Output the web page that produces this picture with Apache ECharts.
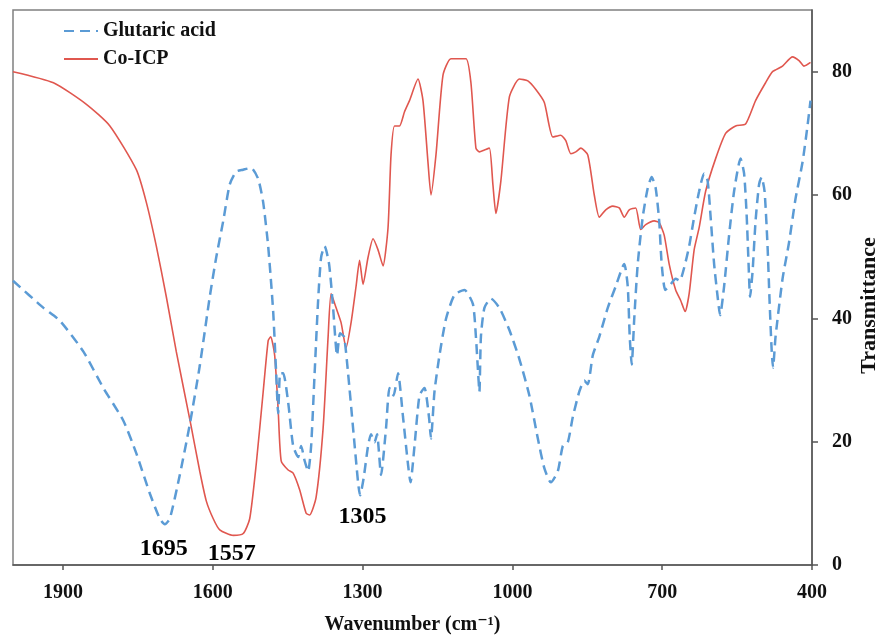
<!DOCTYPE html>
<html>
<head>
<meta charset="utf-8">
<script src="https://cdn.jsdelivr.net/npm/echarts@6/dist/echarts.min.js"></script>
<style>html,body{margin:0;padding:0;background:#fff}#c{width:879px;height:636px}</style>
</head>
<body>
<div id="c"></div>
<script>
// ---- data ----
const xTicks = [1900, 1600, 1300, 1000, 700, 400];
const yTicks = [0, 20, 40, 60, 80];

const glutaricWavenumber = [2000,1939,1906,1859,1819,1779,1753,1726,1706,1696,1686,1666,1646,1626,1606,1593,1579,1566,1553,1539,1523,1509,1499,1489,1479,1473,1469,1465,1459,1449,1439,1429,1423,1416,1409,1403,1396,1389,1383,1376,1367,1359,1351,1345,1337,1329,1319,1309,1305,1298,1289,1283,1276,1271,1263,1253,1246,1238,1229,1219,1209,1204,1196,1186,1176,1167,1163,1156,1146,1133,1116,1096,1079,1073,1069,1066,1063,1056,1043,1026,1006,986,966,949,936,923,909,899,889,879,866,856,849,839,826,809,793,776,769,765,761,756,749,739,729,721,713,706,701,694,686,673,665,656,646,636,626,616,609,603,596,589,584,576,566,556,543,536,531,527,524,519,513,506,501,495,489,485,481,478,473,459,446,433,419,409,403];
const glutaricT = [46.1,41.7,39.6,34.6,28.7,23.4,18.1,11.6,7.5,6.6,7.5,14.6,22.8,32.3,43.5,49.9,55.8,61.7,63.8,64.1,64.4,62.6,58.8,51.7,41.1,31.1,24.6,31.1,31.1,26.4,19.3,17.5,19.3,16.9,15.2,19.3,31.1,42.9,49.9,51.7,48.8,41.7,34.0,37.6,37.0,31.1,22.2,13.4,11.3,14.0,19.3,21.2,19.9,21.2,14.6,22.2,28.7,27.5,31.1,24.0,16.3,13.4,19.3,27.5,28.7,24.0,20.5,28.1,34.0,39.9,43.8,44.6,42.3,37.0,31.7,28.1,37.0,41.7,43.2,41.7,38.1,33.4,27.5,20.5,15.7,13.4,15.2,19.3,19.9,24.0,28.1,29.9,29.3,34.0,37.0,41.7,45.2,48.8,45.2,37.0,32.5,39.9,48.8,56.4,61.1,62.9,61.1,55.8,48.8,44.6,45.2,46.4,46.1,48.2,51.7,56.4,60.6,63.5,62.3,56.4,48.8,43.5,40.5,45.2,53.5,60.6,65.9,63.5,57.0,48.8,43.5,47.6,55.8,61.7,62.9,60.6,51.7,42.9,35.2,32.0,37.0,46.4,52.3,59.4,65.3,71.2,75.3];

const coicpWavenumber = [2000,1919,1853,1806,1753,1733,1713,1693,1673,1644,1626,1613,1599,1586,1559,1539,1526,1513,1499,1489,1484,1476,1469,1463,1449,1439,1426,1413,1406,1393,1379,1369,1363,1353,1343,1333,1323,1313,1306,1299,1289,1279,1269,1259,1249,1243,1236,1226,1216,1206,1189,1179,1169,1163,1153,1139,1123,1093,1083,1073,1066,1056,1046,1039,1033,1023,1006,986,969,953,936,919,903,893,883,873,863,849,836,826,813,799,786,776,766,753,743,733,716,706,696,686,673,663,654,646,636,626,613,593,573,553,533,513,493,479,459,439,426,416,403];
const coicpT = [80.0,78.2,74.7,71.2,64.1,58.8,51.7,43.5,34.6,22.8,15.2,10.4,7.5,5.7,4.8,5.1,7.5,16.3,28.1,36.4,37.0,34.0,25.2,16.9,15.4,14.9,12.2,8.4,8.1,11.0,22.2,37.0,44.0,41.7,39.3,35.2,39.3,45.2,49.4,45.5,49.9,52.9,51.1,48.5,54.7,66.5,71.2,71.2,73.5,75.3,78.8,75.3,65.3,60.0,66.5,79.4,82.1,82.1,78.2,67.6,67.0,67.3,67.6,61.7,57.0,62.3,75.9,78.8,78.5,77.1,75.0,69.4,69.7,68.8,66.7,67.0,67.6,66.5,60.0,56.4,57.6,58.2,57.9,56.4,57.6,57.9,54.4,55.2,55.8,55.5,53.5,48.8,44.6,42.9,41.1,44.0,51.1,54.7,60.6,65.9,70.0,71.2,71.5,75.3,78.2,80.0,80.9,82.4,81.8,80.9,81.5];

const peakLabels = ['1695', '1557', '1305'];
const peakX = [1698, 1562, 1300];
const peakY = [2.6, 1.8, 7.8];

// ---- chart ----
const pairs = (xs, ys) => xs.map((x, i) => [x, ys[i]]);
const FONT = '"Liberation Serif", "DejaVu Serif", serif';
const INK = '#111';
const chart = echarts.init(document.getElementById('c'), null, {renderer: 'canvas'});
chart.setOption({
  animation: false,
  backgroundColor: '#fff',
  textStyle: {fontFamily: FONT},
  grid: {left: 13, right: 67, top: 10, bottom: 71, outerBoundsMode: 'none', containLabel: false,
    show: true, borderColor: '#808080', borderWidth: 1.5},
  legend: {
    data: ['Glutaric acid', 'Co-ICP'],
    orient: 'vertical', left: 58, top: 16, itemWidth: 34, itemHeight: 14, itemGap: 8,
    itemStyle: {opacity: 0},
    textStyle: {fontFamily: FONT, fontWeight: 'bold', fontSize: 20, color: INK}
  },
  xAxis: {
    type: 'value', inverse: true, min: 400, max: 2000, interval: 300,
    name: 'Wavenumber (cm⁻¹)', nameLocation: 'middle', nameGap: 50, nameMoveOverlap: false,
    nameTextStyle: {fontFamily: FONT, fontWeight: 'bold', fontSize: 20, color: INK},
    axisLine: {lineStyle: {color: '#555', width: 1.5}},
    axisTick: {show: true, length: 5, customValues: xTicks, lineStyle: {color: '#555', width: 1.5}},
    axisLabel: {customValues: xTicks, margin: 18, formatter: v => String(v),
      fontFamily: FONT, fontWeight: 'bold', fontSize: 20, color: INK},
    splitLine: {show: false}
  },
  yAxis: {
    type: 'value', position: 'right', min: 0, max: 90, interval: 20,
    name: 'Transmittance', nameLocation: 'middle', nameGap: 46, nameRotate: 90, nameMoveOverlap: false,
    nameTextStyle: {fontFamily: FONT, fontWeight: 'bold', fontSize: 22, color: INK, padding: [0, 36, 0, 0]},
    axisLine: {show: true, lineStyle: {color: '#555', width: 1.5}},
    axisTick: {show: true, length: 6, customValues: yTicks, lineStyle: {color: '#555', width: 1.5}},
    axisLabel: {customValues: yTicks, margin: 20, formatter: v => String(v),
      fontFamily: FONT, fontWeight: 'bold', fontSize: 20, color: INK},
    splitLine: {show: false}
  },
  series: [
    {
      name: 'Glutaric acid', type: 'line', data: pairs(glutaricWavenumber, glutaricT),
      symbol: 'none', smooth: 0.2, z: 3,
      lineStyle: {color: '#5b9bd5', width: 2.5, type: [10, 6]},
      itemStyle: {color: '#5b9bd5'}
    },
    {
      name: 'Co-ICP', type: 'line', data: pairs(coicpWavenumber, coicpT),
      symbol: 'none', smooth: 0.2, z: 2,
      lineStyle: {color: '#e0574f', width: 1.6},
      itemStyle: {color: '#e0574f'}
    },
    {
      name: 'peaks', type: 'scatter', data: pairs(peakX, peakY).map((p, i) => ({value: p, name: peakLabels[i]})),
      symbolSize: 0.1, itemStyle: {color: '#fff', opacity: 1}, silent: true, z: 5,
      label: {show: true, position: [0, 0], align: 'center', verticalAlign: 'middle', formatter: p => p.name,
        fontFamily: FONT, fontWeight: 'bold', fontSize: 24, color: '#000'}
    }
  ]
});
</script>
</body>
</html>
